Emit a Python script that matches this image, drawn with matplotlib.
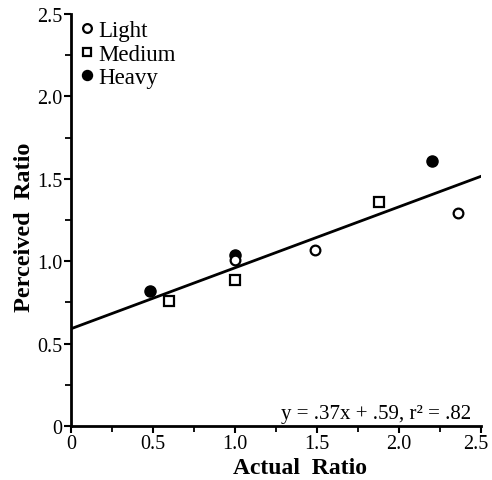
import numpy as np
import matplotlib
matplotlib.use("Agg")
import matplotlib.pyplot as plt
import matplotlib.transforms as mtransforms
from matplotlib.ticker import MultipleLocator, FuncFormatter

# values
light_x = [1.0, 1.49, 2.36]
light_y = [1.01, 1.07, 1.29]
medium_x = [0.6, 1.0, 1.88]
medium_y = [0.76, 0.885, 1.36]
heavy_x = [0.48, 1.0, 2.2]
heavy_y = [0.82, 1.04, 1.61]
fit_slope = 0.37
fit_icpt = 0.59

plt.rcParams['font.family'] = ['Liberation Serif', 'DejaVu Serif']

fig = plt.figure(figsize=(4.92, 4.81), dpi=100)
ax = fig.add_axes([0.1443, 0.1123, 0.8333, 0.8565])

fx = np.array([0.0, 2.5])
ax.plot(fx, fit_slope * fx + fit_icpt, color='black', lw=2, zorder=2)

ax.plot(heavy_x, heavy_y, 'o', ms=8, mfc='black', mec='black', ls='none', label='Heavy', zorder=3)
ax.plot(medium_x, medium_y, 's', ms=7, mfc='white', mec='black', mew=1.6, ls='none', label='Medium', zorder=4)
ax.plot(light_x, light_y, 'o', ms=7, mfc='white', mec='black', mew=1.6, ls='none', label='Light', zorder=4)

ax.set_xlim(0, 2.5)
ax.set_ylim(0, 2.5)
for s in ['top', 'right']:
    ax.spines[s].set_visible(False)
for s in ['left', 'bottom']:
    ax.spines[s].set_linewidth(2)

ax.xaxis.set_major_locator(MultipleLocator(0.5))
ax.xaxis.set_minor_locator(MultipleLocator(0.25))
ax.yaxis.set_major_locator(MultipleLocator(0.5))
ax.yaxis.set_minor_locator(MultipleLocator(0.25))
fmt = FuncFormatter(lambda v, p: '0' if abs(v) < 1e-9 else '%.1f' % v)
ax.xaxis.set_major_formatter(fmt)
ax.yaxis.set_major_formatter(fmt)
ax.tick_params(which='major', direction='out', length=5, width=1.5, labelsize=14.5, pad=1)
ax.tick_params(which='minor', direction='out', length=4, width=1.3)

ax.set_xlabel('Actual  Ratio', fontsize=17, fontweight='bold')
ax.xaxis.set_label_coords(0.559, -0.075)
ax.set_ylabel('Perceived  Ratio', fontsize=17.5, fontweight='bold')
ax.yaxis.set_label_coords(-0.089, 0.485)

ax.text(0.975, 0.008, 'y = .37x + .59, r\u00b2 = .82', transform=ax.transAxes,
        ha='right', va='bottom', fontsize=15)

# legend in Light / Medium / Heavy order
h, l = ax.get_legend_handles_labels()
order = [2, 1, 0]
leg = ax.legend([h[i] for i in order], [l[i] for i in order], loc='upper left',
                frameon=False, fontsize=16.5, handletextpad=0.1, labelspacing=0.1,
                borderaxespad=0.0, handlelength=0.8, borderpad=0.1,
                markerscale=0.9, bbox_to_anchor=(0.01, 0.99))

# nudge the last x label so it stays inside the figure
fig.canvas.draw()
for tk in ax.xaxis.get_major_ticks():
    if abs(tk.get_loc() - 2.5) < 1e-9:
        tk.label1.set_transform(tk.label1.get_transform() +
                                mtransforms.ScaledTranslation(-4 / 72, 0, fig.dpi_scale_trans))

fig.savefig('out.png', dpi=100)
